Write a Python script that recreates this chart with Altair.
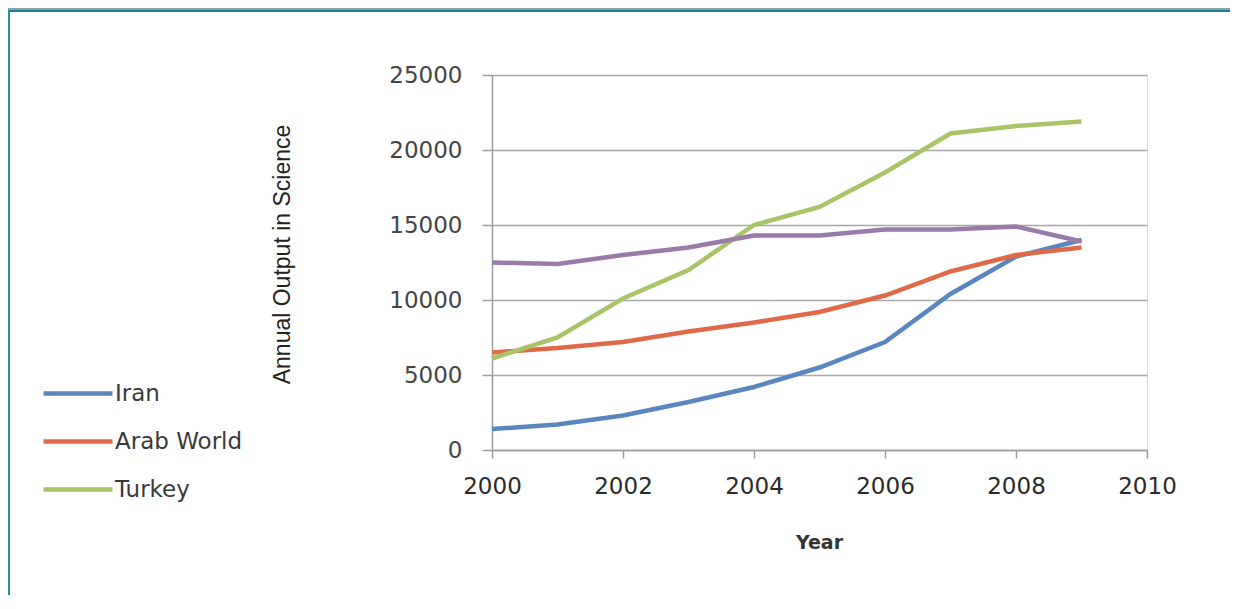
import altair as alt
import pandas as pd

years = [2000, 2001, 2002, 2003, 2004, 2005, 2006, 2007, 2008, 2009]
iran = [1400, 1700, 2300, 3200, 4200, 5500, 7200, 10400, 12900, 14000]
arab_world = [6500, 6800, 7200, 7900, 8500, 9200, 10300, 11900, 13000, 13500]
turkey = [6100, 7500, 10100, 12000, 15000, 16200, 18500, 21100, 21600, 21900]
unlabeled = [12500, 12400, 13000, 13500, 14300, 14300, 14700, 14700, 14900, 13900]

series_names = ["Iran", "Arab World", "Turkey"]
series_colors = ["#5a86c0", "#e06a48", "#a8c466"]
unlabeled_color = "#9a7aa8"
x_ticks = [2000, 2002, 2004, 2006, 2008, 2010]
y_ticks = [0, 5000, 10000, 15000, 20000, 25000]

rows = []
for name, vals in zip(series_names, [iran, arab_world, turkey]):
    for yr, v in zip(years, vals):
        rows.append({"Year": yr, "Output": v, "Series": name})
df = pd.DataFrame(rows)
df_other = pd.DataFrame({"Year": years, "Output": unlabeled})

x_enc = alt.X(
    "Year:Q",
    scale=alt.Scale(domain=[2000, 2010], nice=False, zero=False),
    axis=alt.Axis(
        values=x_ticks, format="d", grid=False, title="Year", labelFlush=False,
        labelFont="DejaVu Sans", labelFontSize=23, labelColor="#2a2a2a",
        labelPadding=17, tickSize=8, tickColor="#9c9c9c", domainColor="#9c9c9c",
        domainWidth=1.5, tickWidth=1.5,
        titleFont="DejaVu Sans", titleFontSize=19, titleFontWeight="bold",
        titleColor="#333333", titleX=327, titleY=92, titleBaseline="middle",
        titleAlign="center",
    ),
)
y_enc = alt.Y(
    "Output:Q",
    scale=alt.Scale(domain=[0, 25000], nice=False),
    axis=alt.Axis(
        values=y_ticks, format="d", grid=True, gridColor="#a8a8a8", gridWidth=1.5,
        title="Annual Output in Science", labelFlush=False,
        labelFont="DejaVu Sans", labelFontSize=23, labelColor="#444444",
        labelPadding=20, tickSize=10, tickColor="#9c9c9c", domainColor="#9c9c9c",
        domainWidth=1.5, tickWidth=1.5,
        titleFont="Liberation Sans", titleFontSize=23, titleFontWeight="normal",
        titleColor="#222222", titleAngle=270, titleX=-210, titleY=179,
        titleBaseline="middle", titleAlign="center",
    ),
)

lines = alt.Chart(df).mark_line(strokeWidth=4.5).encode(
    x=x_enc,
    y=y_enc,
    color=alt.Color(
        "Series:N",
        scale=alt.Scale(domain=series_names, range=series_colors),
        sort=series_names,
        legend=alt.Legend(
            title=None, orient="none", legendX=-406, legendY=304,
            symbolType="M-4.75,0H1", symbolSize=576, symbolStrokeWidth=4.5,
            labelFont="DejaVu Sans", labelFontSize=23, labelColor="#3a3a3a",
            labelOffset=0, rowPadding=21, padding=0,
        ),
    ),
    detail="Series:N",
)

other_line = alt.Chart(df_other).mark_line(strokeWidth=4.5, color=unlabeled_color).encode(
    x="Year:Q",
    y="Output:Q",
)

frame_src = alt.Data(values=[{"k": 1}])
top_bar = alt.Chart(frame_src).mark_rect(color="#86a3ae").encode(
    x=alt.value(-484), x2=alt.value(740), y=alt.value(-67), y2=alt.value(-65)
)
top_line = alt.Chart(frame_src).mark_rect(color="#1d8090").encode(
    x=alt.value(-484), x2=alt.value(740), y=alt.value(-65), y2=alt.value(-63)
)
left_line = alt.Chart(frame_src).mark_rect(color="#2a8e9c").encode(
    x=alt.value(-484), x2=alt.value(-482), y=alt.value(-65), y2=alt.value(530)
)

chart = alt.layer(top_bar, top_line, left_line, lines, other_line).properties(
    width=655,
    height=375,
    padding={"left": 484, "top": 67, "right": 83, "bottom": 145},
    autosize=alt.AutoSizeParams(type="none"),
).configure_view(strokeWidth=0).configure(background="white")

chart.save("out.html", embed_options={"renderer": "svg", "actions": False})
